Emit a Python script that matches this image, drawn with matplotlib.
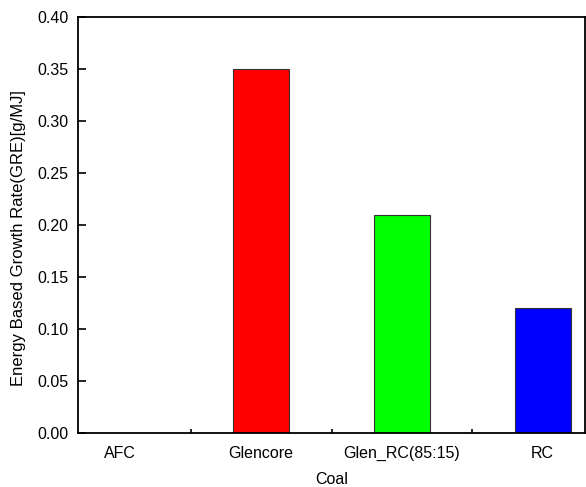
import matplotlib
matplotlib.use("Agg")
import matplotlib.pyplot as plt
from matplotlib.ticker import FixedLocator

categories = ["AFC", "Glencore", "Glen_RC(85:15)", "RC"]
values = [0.0, 0.35, 0.21, 0.12]
colors = ["#FF0000", "#FF0000", "#00FF00", "#0000FF"]
yticks = [0.00, 0.05, 0.10, 0.15, 0.20, 0.25, 0.30, 0.35, 0.40]

plt.rcParams['font.family'] = ['Liberation Sans', 'DejaVu Sans']
fig = plt.figure(figsize=(5.86, 4.87), dpi=100)
ax = fig.add_axes([78/586, 1-433/487, (585-78)/586, (433-17)/487])

x = list(range(len(categories)))
ax.bar(x, values, width=0.4, color=colors, edgecolor="#333333", linewidth=0.8)

ax.set_xlim(-0.3, 3.3)
ax.set_ylim(0, 0.40)
ax.set_xticks(x)
ax.set_xticklabels(categories, fontsize=11.5)
ax.tick_params(axis='x', which='major', length=0, pad=9)
ax.xaxis.set_minor_locator(FixedLocator([0.5, 1.5, 2.5]))
ax.tick_params(axis='x', which='minor', direction='in', length=3, width=1.2)
ax.set_yticks(yticks)
ax.set_yticklabels([f"{v:.2f}" for v in yticks], fontsize=11.5)
ax.tick_params(axis='y', direction='in', length=6, width=1.2, pad=7)

for s in ax.spines.values():
    s.set_linewidth(1.3)

ax.set_xlabel("Coal", fontsize=11.5, labelpad=8)
ax.set_ylabel("Energy Based Growth Rate(GRE)[g/MJ]", fontsize=12, labelpad=8)
ax.yaxis.label.set_y(0.469)

fig.savefig("out.png", dpi=100)
